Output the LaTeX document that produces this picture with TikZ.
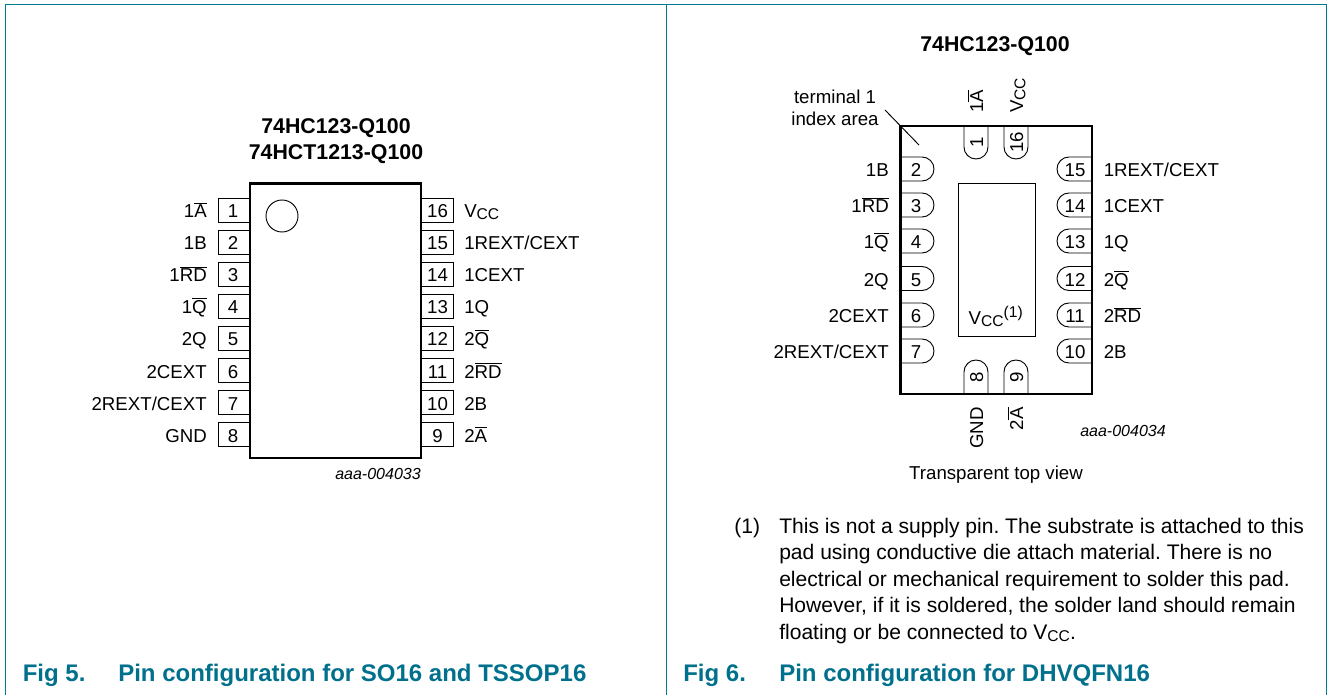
\documentclass[tikz,border=0pt]{standalone}
\usepackage{fontspec}
\setmainfont{Liberation Sans}
\definecolor{nxp}{HTML}{00708C}
\definecolor{nxpline}{HTML}{00788E}
\frenchspacing
\newcommand{\ob}[1]{$\overline{\hbox{#1}}$}
\newcommand{\vcc}{V\raisebox{-1.6pt}{\fontsize{11.7}{12}\selectfont CC}}
\newcommand{\lblfont}{\fontsize{14}{16}\selectfont}
\tikzset{
  x=0.75pt,y=-0.75pt,
  frameline/.style={draw=nxpline,line width=1pt},
  chip/.style={draw=black,line width=1.9pt,line join=miter},
  pinbox/.style={draw=black,line width=0.7pt},
  padbox/.style={draw=black,line width=0.7pt},
  txt/.style={inner sep=0pt,font=\lblfont,text=black,text height=10pt,text depth=0pt},
  numtxt/.style={txt},
  title/.style={inner sep=0pt,font=\fontsize{16}{18}\selectfont\bfseries,text=black},
  code/.style={inner sep=0pt,font=\fontsize{12}{14}\selectfont\itshape,text=black},
  caption/.style={inner sep=0pt,anchor=base west,font=\fontsize{18}{20}\selectfont\bfseries,text=nxp},
  note/.style={inner sep=0pt,anchor=base west,font=\fontsize{15.8}{18}\selectfont,text=black},
}
% SO16 pins
\newcommand{\soL}[3]{%
  \draw[pinbox] (250,#1-12) -- (218,#1-12) -- (218,#1+12) -- (250,#1+12);
  \node[numtxt] (sn#2) at (233,#1+1) {#2};
  \node[txt,anchor=east] (sl#2) at (207,#1+1) {#3};}
\newcommand{\soR}[3]{%
  \draw[pinbox] (421,#1-12) -- (453.5,#1-12) -- (453.5,#1+12) -- (421,#1+12);
  \node[numtxt] (sn#2) at (437.5,#1+1) {#2};
  \node[txt,anchor=west] (sl#2) at (464,#1+1) {#3};}
% DHVQFN16 pins
\newcommand{\qfL}[3]{%
  \draw[pinbox] (900,#1-12) -- (922,#1-12) arc[start angle=90,end angle=-90,radius=9pt] -- (900,#1+12);
  \node[numtxt] (qn#2) at (916,#1+1) {#2};
  \node[txt,anchor=east] (ql#2) at (889,#1+1) {#3};}
\newcommand{\qfR}[3]{%
  \draw[pinbox] (1092,#1-12) -- (1069,#1-12) arc[start angle=90,end angle=270,radius=9pt] -- (1092,#1+12);
  \node[numtxt] (qn#2) at (1075,#1+1) {#2};
  \node[txt,anchor=west] (ql#2) at (1103.5,#1+1) {#3};}
\newcommand{\qfT}[3]{%
  \draw[pinbox] (#1-12,126) -- (#1-12,147) arc[start angle=180,end angle=360,radius=9pt] -- (#1+12,126);
  \node[numtxt,rotate=90] (qn#2) at (#1+0.5,142) {#2};
  \node[txt,rotate=90,anchor=west] (ql#2) at (#1+0.5,113) {#3};}
\newcommand{\qfB}[3]{%
  \draw[pinbox] (#1-12,394) -- (#1-12,372) arc[start angle=180,end angle=0,radius=9pt] -- (#1+12,394);
  \node[numtxt,rotate=90] (qn#2) at (#1+0.5,377) {#2};
  \node[txt,rotate=90,anchor=east] (ql#2) at (#1+0.5,407) {#3};}
\begin{document}
\begin{tikzpicture}
\useasboundingbox (0,0) rectangle (1328,695);
% frame
\draw[frameline] (5.5,695) -- (5.5,4.5) -- (1326.5,4.5) -- (1326.5,695);
\draw[frameline] (666.5,4.5) -- (666.5,695);
% left panel
\node[title] (t1) at (336,128.5) {74HC123-Q100};
\node[title] (t2) at (336,154.5) {74HCT1213-Q100};
\soL{210}{1}{1\ob{A}}
\soL{242}{2}{1B}
\soL{274}{3}{1\ob{RD}}
\soL{306}{4}{1\ob{Q}}
\soL{338}{5}{2Q}
\soL{370.5}{6}{2CEXT}
\soL{402.5}{7}{2REXT/CEXT}
\soL{434.5}{8}{GND}
\soR{210}{16}{\vcc}
\soR{242}{15}{1REXT/CEXT}
\soR{274}{14}{1CEXT}
\soR{306}{13}{1Q}
\soR{338}{12}{2\ob{Q}}
\soR{370.5}{11}{2\ob{RD}}
\soR{402.5}{10}{2B}
\soR{434.5}{9}{2\ob{A}}
\draw[chip] (250,183.5) rectangle (421,458);
\draw[draw=black,line width=0.7pt] (282,216) circle[radius=12pt];
\node[code] (c1) at (378,473.5) {aaa-004033};
% right panel
\node[title] (t3) at (995,46.5) {74HC123-Q100};
\node[inner sep=0pt,align=center,font=\lblfont,anchor=north] (idx) at (835,90) {terminal 1\\[0.3pt]index area};
\coordinate (ia) at (885,110);
\coordinate (ib) at (919,145);
\draw[pinbox] (ia) -- (ib);
\qfT{976}{1}{1\ob{A}}
\qfT{1016}{16}{\vcc}
\qfL{169}{2}{1B}
\qfL{205}{3}{1\ob{RD}}
\qfL{241}{4}{1\ob{Q}}
\qfL{278.5}{5}{2Q}
\qfL{315}{6}{2CEXT}
\qfL{351}{7}{2REXT/CEXT}
\qfR{169}{15}{1REXT/CEXT}
\qfR{205}{14}{1CEXT}
\qfR{241}{13}{1Q}
\qfR{278.5}{12}{2\ob{Q}}
\qfR{315}{11}{2\ob{RD}}
\qfR{351}{10}{2B}
\qfB{976}{8}{GND}
\qfB{1016}{9}{2\ob{A}}
\draw[chip] (900.5,126) rectangle (1092,394);
\draw[padbox] (958,183) rectangle (1035,336) ;
\node[txt] (padl) at (996,318) {\vcc$^{\hbox{\fontsize{11.7}{12}\selectfont(1)}}$};
\node[code] (c2) at (1123,431) {aaa-004034};
\node[txt] (tv) at (996,473) {Transparent top view};
\node[note] (n0) at (734,533) {(1)};
\node[note] (n1) at (779,533) {This is not a supply pin. The substrate is attached to this};
\node[note] (n2) at (779,559.5) {pad using conductive die attach material. There is no};
\node[note] (n3) at (779,586) {electrical or mechanical requirement to solder this pad.};
\node[note] (n4) at (779,612.5) {However, if it is soldered, the solder land should remain};
\node[note] (n5) at (779,639) {floating or be connected to \vcc.};
% captions
\node[caption] (f5) at (22.5,681) {Fig 5.};
\node[caption] (f5t) at (118,681) {Pin configuration for SO16 and TSSOP16};
\node[caption] (f6) at (683,681) {Fig 6.};
\node[caption] (f6t) at (779,681) {Pin configuration for DHVQFN16};
\end{tikzpicture}
\end{document}
